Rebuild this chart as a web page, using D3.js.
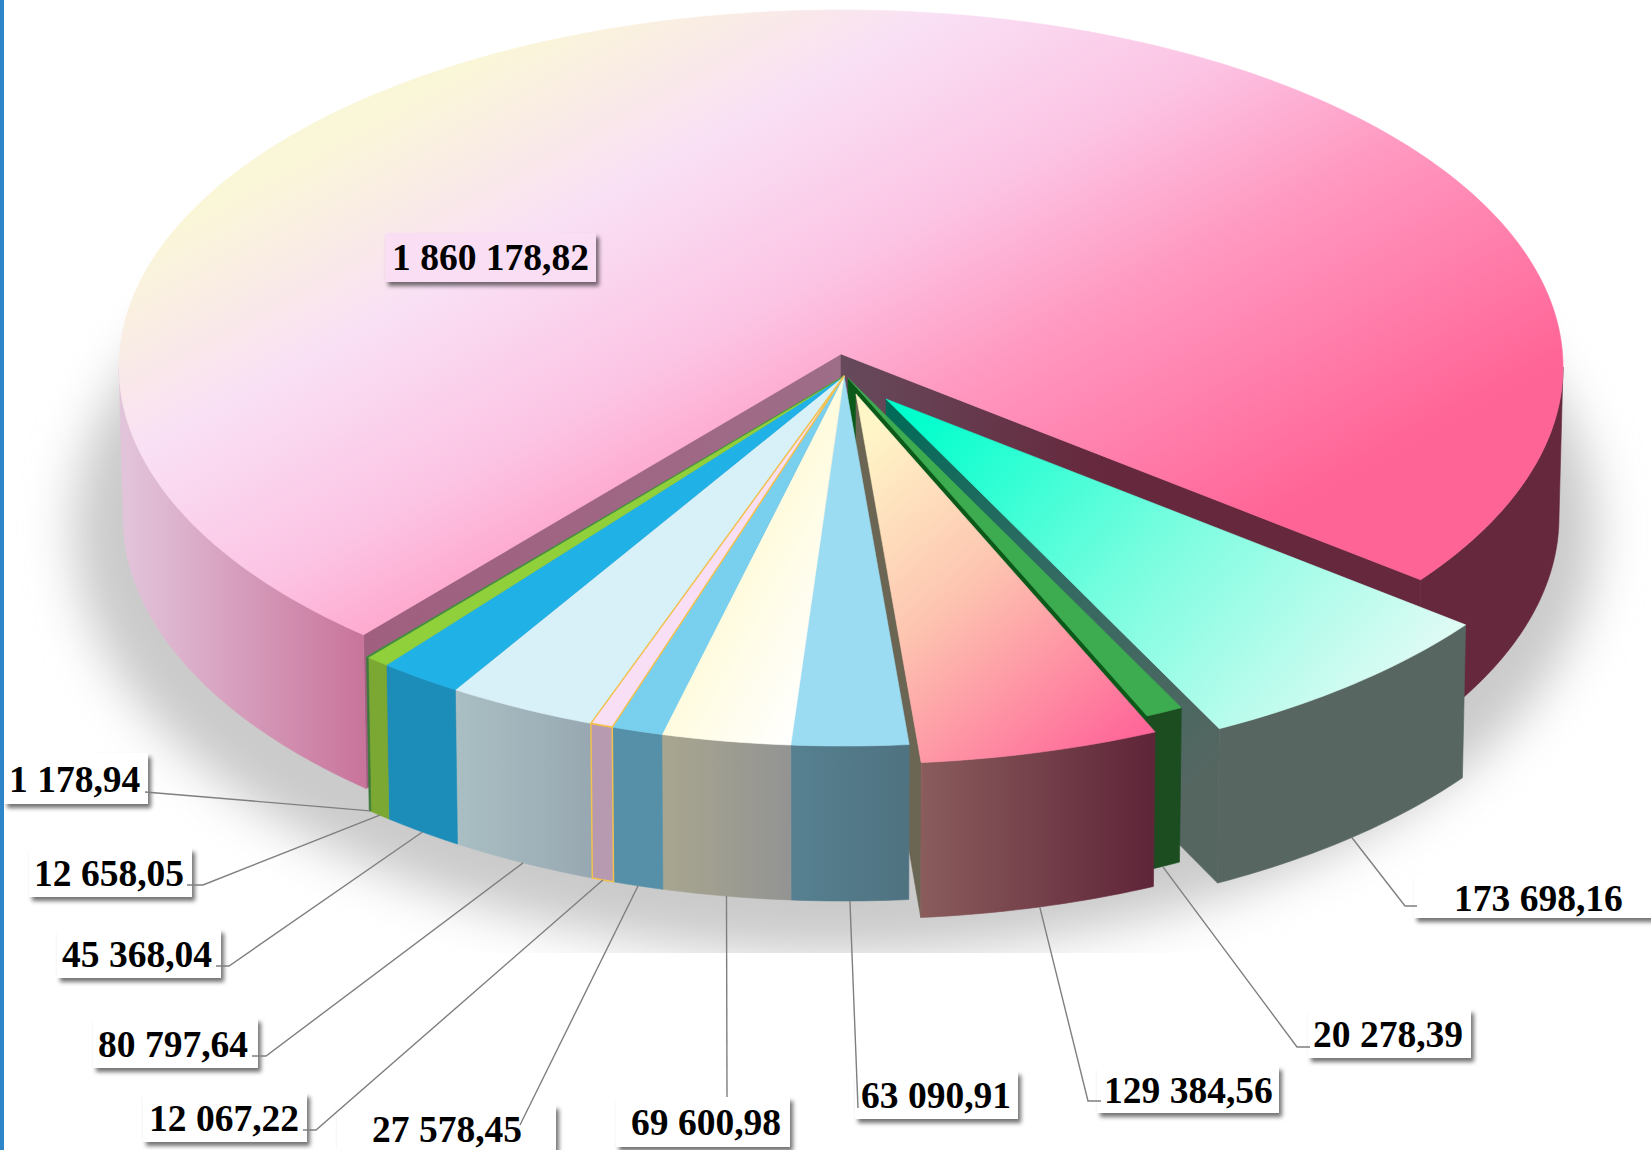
<!DOCTYPE html>
<html>
<head>
<meta charset="utf-8">
<script src="https://cdn.jsdelivr.net/npm/d3@7"></script>
<style>
  html, body { margin: 0; background: #fff; overflow: hidden; }
  text { font-family: "Liberation Serif", serif; font-weight: bold; font-size: 37.5px; fill: #000; }
</style>
</head>
<body>
<svg id="chart"></svg>
<script>
// values, clockwise starting with the big slice
const values = [1860178.82, 173698.16, 20278.39, 129384.56, 63090.91, 69600.98,
                27578.45, 12067.22, 80797.64, 45368.04, 12658.05, 1178.94];

// drawing setup
const w = 1651, h = 1150;
const rx = 722, ry = 357, rxLow = 718, ryLow = 362;
const depth = 150, centreDrop = 13;

// the apex of every slice, the front ones are pulled out of the pie
const apexes = [[841, 354], [886, 399], [848, 378], [856, 394]];
const groupApex = [844, 376];
const apexOf = i => i < 4 ? apexes[i] : groupApex;

const topFills = ["url(#mainTop)", "url(#tealTop)", "#3dab50", "url(#roseTop)", "#9cdcf2", "url(#creamTop)",
                  "#78cfee", "#f8dff5", "#d8f0f8", "#20b2e6", "#90d03a", "#3f8f3f"];
const wallFills = ["#66283c", "#586661", "#1b4d20", "url(#roseWall)", "url(#blueWall)", "url(#creamWall)",
                   "#5590a8", "#b89ab0", "url(#iceWall)", "#1b8db8", "#7ba733", "#3a7a3a"];
const faceFills = ["#66283c", "url(#tealFace)", "#0b5a1a", "#6b6553"];

// label text position [x, baseline] and box [left, top, right, bottom]
const labelAt = [[392, 270], [1454, 911], [1313, 1047], [1104, 1103], [861, 1108], [631, 1135],
                 [372, 1142], [149, 1131], [98, 1057], [62, 967], [34, 886], [9, 792]];
const labelBox = [[385, 233, 596, 282], [1414, 875, 1660, 918], [1308, 1009, 1471, 1058], [1097, 1066, 1279, 1113],
                  [855, 1071, 1018, 1119], [616, 1097, 790, 1147], [337, 1105, 556, 1165], [143, 1093, 307, 1142],
                  [93, 1018, 258, 1068], [57, 929, 221, 978], [29, 848, 192, 897], [4, 753, 148, 804]];
// leader line bends between the slice and its label
const leaderBends = [[], [[1405, 906], [1417, 906]], [[1297, 1047], [1310, 1047]], [[1088, 1101], [1101, 1101]],
                     [[858, 1108]], [[727, 1097]], [[520, 1125]], [[316, 1130], [303, 1130]],
                     [[266, 1056], [252, 1056]], [[229, 966], [216, 966]], [[203, 885], [187, 885]], [[145, 792]]];

const rad = d => d * Math.PI / 180;
const total = d3.sum(values);
const cumulative = [0, ...d3.cumsum(values)];

// cumulative value -> drawn angle, front of the pie is a bit stretched by the perspective
const angle = d3.scaleLinear()
    .domain([0, values[0], total])
    .range([221.4, 486.6, 581.4]);

const topPt = (a, t) => [a[0] + rx * Math.sin(rad(t)), a[1] + centreDrop - ry * Math.cos(rad(t))];
const lowPt = (a, t) => [a[0] + rxLow * Math.sin(rad(t)), a[1] + centreDrop + depth - ryLow * Math.cos(rad(t))];
const steps = (t0, t1) => {
    const n = Math.max(2, Math.ceil(Math.abs(t1 - t0)));
    return d3.range(n + 1).map(k => t0 + (t1 - t0) * k / n);
};
const line = d3.line();

const svg = d3.select('#chart').attr('width', w).attr('height', h).style('display', 'block');
const defs = svg.append('defs');

function gradient(id, x1, y1, x2, y2, stops) {
    const g = defs.append('linearGradient').attr('id', id).attr('gradientUnits', 'userSpaceOnUse')
        .attr('x1', x1).attr('y1', y1).attr('x2', x2).attr('y2', y2);
    stops.forEach(s => g.append('stop').attr('offset', s[0]).attr('stop-color', s[1]));
}
gradient('mainTop', 263, 179, 640, 866, [[0, '#faf6d8'], [0.23, '#f9e0f5'], [0.45, '#fcc4e4'], [0.66, '#ff98c0'], [1, '#ff6496']]);
gradient('leftWall', 125, 0, 363, 0, [[0, '#e2c4da'], [1, '#c9749b']]);
gradient('mainFace', 363, 0, 841, 0, [[0, '#a05f7f'], [1, '#9e6d88']]);
gradient('rightFace', 841, 0, 1100, 0, [[0, '#664a5c'], [1, '#66283c']]);
gradient('tealTop', 930, 400, 1340, 770, [[0, '#00ffcc'], [0.5, '#7dfde0'], [1, '#e2fbf5']]);
gradient('tealFace', 886, 398, 1221, 760, [[0, '#006b58'], [0.45, '#2f6a62'], [1, '#556661']]);
gradient('roseTop', 870, 430, 1130, 740, [[0, '#fff6c8'], [0.45, '#fdc4b0'], [1, '#ff6699']]);
gradient('roseWall', 921, 0, 1156, 0, [[0, '#8a5c5c'], [1, '#5e2438']]);
gradient('blueWall', 793, 0, 912, 0, [[0, '#568090'], [1, '#4f7280']]);
gradient('creamTop', 663, 734, 768, 791, [[0, '#fffbdf'], [1, '#ffffff']]);
gradient('creamWall', 663, 0, 793, 0, [[0, '#a8a68f'], [1, '#939393']]);
gradient('iceWall', 455, 0, 591, 0, [[0, '#a9bfc3'], [1, '#98a8b2']]);

const blur = defs.append('filter').attr('id', 'soft').attr('x', '-10%').attr('y', '-10%').attr('width', '120%').attr('height', '120%');
blur.append('feGaussianBlur').attr('stdDeviation', 24);
const boxShadow = defs.append('filter').attr('id', 'boxShadow').attr('x', '-10%').attr('y', '-20%').attr('width', '120%').attr('height', '150%');
boxShadow.append('feDropShadow').attr('dx', 3).attr('dy', 4).attr('stdDeviation', 2)
    .attr('flood-color', '#000').attr('flood-opacity', 0.55);
defs.append('clipPath').attr('id', 'shadowClip').append('rect').attr('width', w).attr('height', 953);

// page strip on the left
svg.append('rect').attr('width', 4).attr('height', h).attr('fill', '#2e86c9');

// soft shadow under the pie
svg.append('g').attr('clip-path', 'url(#shadowClip)')
    .append('ellipse')
    .attr('cx', 835).attr('cy', 530).attr('rx', 762).attr('ry', 425)
    .attr('fill', '#cbcbcb').attr('filter', 'url(#soft)');

function poly(pts, fill, stroke) {
    svg.append('path').attr('d', line(pts) + 'Z').attr('fill', fill)
        .attr('stroke', stroke || fill).attr('stroke-width', stroke ? 1.5 : 0.6).attr('stroke-linejoin', 'round');
}
function wall(a, t0, t1, fill, stroke) {
    const ts = steps(t0, t1);
    poly([...ts.map(t => topPt(a, t)), ...ts.reverse().map(t => lowPt(a, t))], fill, stroke);
}
function face(a, t, fill, stroke) {
    const low = [a[0], a[1] + depth];
    poly([a, topPt(a, t), lowPt(a, t), low], fill, stroke);
}
function topFace(a, t0, t1, fill, stroke) {
    poly([a, ...steps(t0, t1).map(t => topPt(a, t))], fill, stroke);
}

function drawSlice(i) {
    const a = apexOf(i);
    const t0 = angle(cumulative[i]), t1 = angle(cumulative[i + 1]);
    const stroke = i === 7 ? '#f2c14e' : null;
    // the fan of small slices sits closed, only the three pulled slices show a cut face
    if (i < 4) face(a, t1, faceFills[i]);
    wall(a, t0, t1, wallFills[i], stroke);
    topFace(a, t0, t1, topFills[i], stroke);
}

// big slice
const mainApex = apexOf(0);
const mainFrom = angle(0), mainTo = angle(values[0]);
face(mainApex, mainFrom, 'url(#mainFace)');
face(mainApex, mainTo, 'url(#rightFace)');
wall(mainApex, mainFrom, 270, 'url(#leftWall)');
wall(mainApex, 450, mainTo, wallFills[0]);
topFace(mainApex, mainFrom, mainTo, topFills[0]);

// back to front: teal, dark green, rose, then the fan of small slices
[1, 2, 3, 4, 5, 6, 8, 9, 10, 11, 7].forEach(drawSlice);

// labels
const fmt = d3.formatLocale({ decimal: ',', thousands: ' ', grouping: [3], currency: ['', ''] }).format(',.2f');

values.forEach((v, i) => {
    const b = labelBox[i];
    svg.append('rect')
        .attr('x', b[0]).attr('y', b[1]).attr('width', b[2] - b[0]).attr('height', b[3] - b[1])
        .attr('fill', i === 0 ? '#fadff4' : '#fff')
        .attr('filter', 'url(#boxShadow)');
});

// leader lines start on the lower rim, in the middle of the slice
values.forEach((v, i) => {
    if (i === 0) return;
    const mid = (angle(cumulative[i]) + angle(cumulative[i + 1])) / 2;
    svg.append('path')
        .attr('d', line([lowPt(apexOf(i), mid), ...leaderBends[i]]))
        .attr('fill', 'none').attr('stroke', '#7f7f7f').attr('stroke-width', 1.4);
});

values.forEach((v, i) => {
    svg.append('text').attr('x', labelAt[i][0]).attr('y', labelAt[i][1]).text(fmt(v));
});
</script>
</body>
</html>
